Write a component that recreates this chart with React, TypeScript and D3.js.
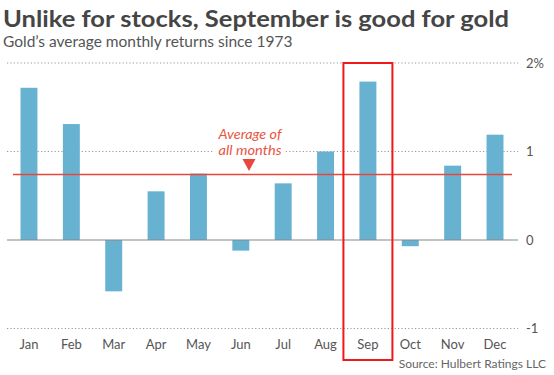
import React from "react";
import * as d3 from "d3";

const months = ["Jan", "Feb", "Mar", "Apr", "May", "Jun", "Jul", "Aug", "Sep", "Oct", "Nov", "Dec"];
const returns = [1.72, 1.31, -0.58, 0.55, 0.75, -0.12, 0.64, 1.0, 1.79, -0.07, 0.84, 1.19];
const averageValue = 0.74;
const yTicks = [2, 1, 0, -1];
const yTickLabels = ["2%", "1", "0", "-1"];
const highlightMonth = "Sep";

const W = 554;
const H = 375;

export default function App() {
  const x = d3.scaleBand<string>().domain(months).range([7.8, 516.2]).paddingInner(0.6).paddingOuter(0.3);
  const y = d3.scaleLinear().domain([-1, 2]).range([328.5, 63]);
  const font = "Lato, 'Open Sans', sans-serif";
  const hx = x(highlightMonth)!;
  const hc = hx + x.bandwidth() / 2;
  const annX = 249;

  return (
    <svg width={W} height={H} style={{ position: "absolute", left: 0, top: 0, background: "#fff" }} fontFamily={font}>
      <rect width={W} height={H} fill="#fff" />
      <text x={3} y={27} fontSize={23} fontWeight={700} fill="#454545" textLength={506} lengthAdjust="spacingAndGlyphs">
        Unlike for stocks, September is good for gold
      </text>
      <text x={3} y={47} fontSize={15.5} fill="#555">
        Gold’s average monthly returns since 1973
      </text>

      {yTicks.map((t, i) => (
        <g key={t}>
          {t !== 0 && (
            <line x1={7} x2={518} y1={y(t)} y2={y(t)} stroke="#999" strokeWidth={1} strokeDasharray="1.2,2.2" />
          )}
          <text x={526} y={y(t) + 4.5} fontSize={13} fill="#555">
            {yTickLabels[i]}
          </text>
        </g>
      ))}

      {months.map((m, i) => {
        const v = returns[i];
        return (
          <rect
            key={m}
            x={x(m)}
            width={x.bandwidth()}
            y={y(Math.max(0, v))}
            height={Math.abs(y(v) - y(0))}
            fill="#67b1d1"
          />
        );
      })}

      <line x1={7} x2={518} y1={y(0)} y2={y(0)} stroke="#888" strokeWidth={1.2} />

      {months.map((m) => (
        <text key={m} x={x(m)! + x.bandwidth() / 2} y={349} fontSize={13} fill="#555" textAnchor="middle">
          {m}
        </text>
      ))}

      <line x1={13} x2={512} y1={y(averageValue)} y2={y(averageValue)} stroke="#e8473c" strokeWidth={1.3} />
      <rect x={annX - 36} y={126} width={72} height={31} fill="#fff" />
      <text x={annX + 1} y={138.5} fontSize={14} fontStyle="italic" fill="#e8553f" textAnchor="middle" textLength={63} lengthAdjust="spacingAndGlyphs">
        Average of
      </text>
      <text x={annX + 1} y={154.5} fontSize={14} fontStyle="italic" fill="#e8553f" textAnchor="middle" textLength={63} lengthAdjust="spacingAndGlyphs">
        all months
      </text>
      <path d={`M${annX - 6.5},159 L${annX + 6.5},159 L${annX},171 Z`} fill="#e8473c" />

      <rect x={hc - 24.5} y={63} width={49} height={297} fill="none" stroke="#f0181a" strokeWidth={2} />

      <text x={546} y={368} fontSize={12} fill="#666" textAnchor="end">
        Source: Hulbert Ratings LLC
      </text>
    </svg>
  );
}
